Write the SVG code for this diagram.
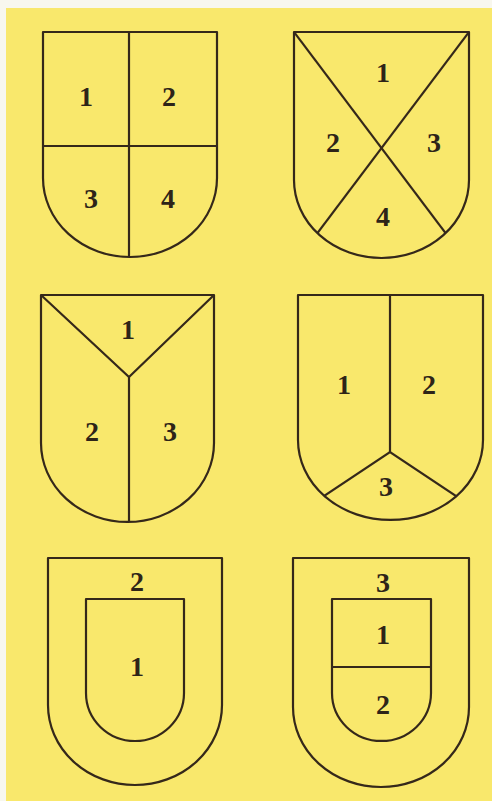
<svg xmlns="http://www.w3.org/2000/svg" width="492" height="801" viewBox="0 0 492 801">
<style>
.bg{fill:#f9e86c}
.sh{fill:none;stroke:#35281a;stroke-width:2.2;stroke-linejoin:round}
.ln{stroke:#35281a;stroke-width:2.2;fill:none}
.t{font-family:"Liberation Serif","Times New Roman",serif;font-weight:bold;font-size:28px;fill:#2e2418;text-anchor:middle}
</style>
<defs>
<clipPath id="c2"><path d="M294,32 H469 V180 A87.5,78 0 0 1 294,180 Z"/></clipPath>
<clipPath id="c4"><path d="M298,295 H483 V440 A92.5,80 0 0 1 298,440 Z"/></clipPath>
</defs>
<rect x="0" y="0" width="492" height="801" fill="#f8f7ee"/>
<rect class="bg" x="6" y="8" width="486" height="793"/>

<g id="shield1">
<path class="sh" d="M43,32 H217 V178 A87,79 0 0 1 43,178 Z"/>
<line class="ln" x1="129" y1="32" x2="129" y2="257"/>
<line class="ln" x1="43" y1="146" x2="217" y2="146"/>
<text class="t" x="86" y="106">1</text>
<text class="t" x="169" y="106">2</text>
<text class="t" x="91" y="208">3</text>
<text class="t" x="168" y="208">4</text>
</g>

<g id="shield2">
<path class="sh" d="M294,32 H469 V180 A87.5,78 0 0 1 294,180 Z"/>
<g clip-path="url(#c2)">
<line class="ln" x1="294" y1="32" x2="496" y2="300"/>
<line class="ln" x1="469" y1="32" x2="267" y2="300"/>
</g>
<text class="t" x="383" y="82">1</text>
<text class="t" x="333" y="152">2</text>
<text class="t" x="434" y="152">3</text>
<text class="t" x="383" y="226">4</text>
</g>

<g id="shield3">
<path class="sh" d="M41,295 H214 V443 A86.5,79 0 0 1 41,443 Z"/>
<polyline class="ln" points="41,295 129,377 214,295"/>
<line class="ln" x1="129" y1="377" x2="129" y2="522"/>
<text class="t" x="128" y="339">1</text>
<text class="t" x="92" y="441">2</text>
<text class="t" x="170" y="441">3</text>
</g>

<g id="shield4">
<path class="sh" d="M298,295 H483 V440 A92.5,80 0 0 1 298,440 Z"/>
<line class="ln" x1="390" y1="295" x2="390" y2="452"/>
<g clip-path="url(#c4)">
<polyline class="ln" points="258,540 390,452 522,540"/>
</g>
<text class="t" x="344" y="394">1</text>
<text class="t" x="429" y="394">2</text>
<text class="t" x="386" y="496">3</text>
</g>

<g id="shield5">
<path class="sh" d="M48,558 H222 V705 A87,80 0 0 1 48,705 Z"/>
<path class="sh" d="M86,599 H184 V693 A49,48 0 0 1 86,693 Z"/>
<text class="t" x="137" y="591">2</text>
<text class="t" x="137" y="676">1</text>
</g>

<g id="shield6">
<path class="sh" d="M293,558 H469 V707 A88,80 0 0 1 293,707 Z"/>
<path class="sh" d="M332,599 H431 V693 A49.5,48 0 0 1 332,693 Z"/>
<line class="ln" x1="332" y1="667" x2="431" y2="667"/>
<text class="t" x="383" y="592">3</text>
<text class="t" x="383" y="644">1</text>
<text class="t" x="383" y="714">2</text>
</g>
</svg>
